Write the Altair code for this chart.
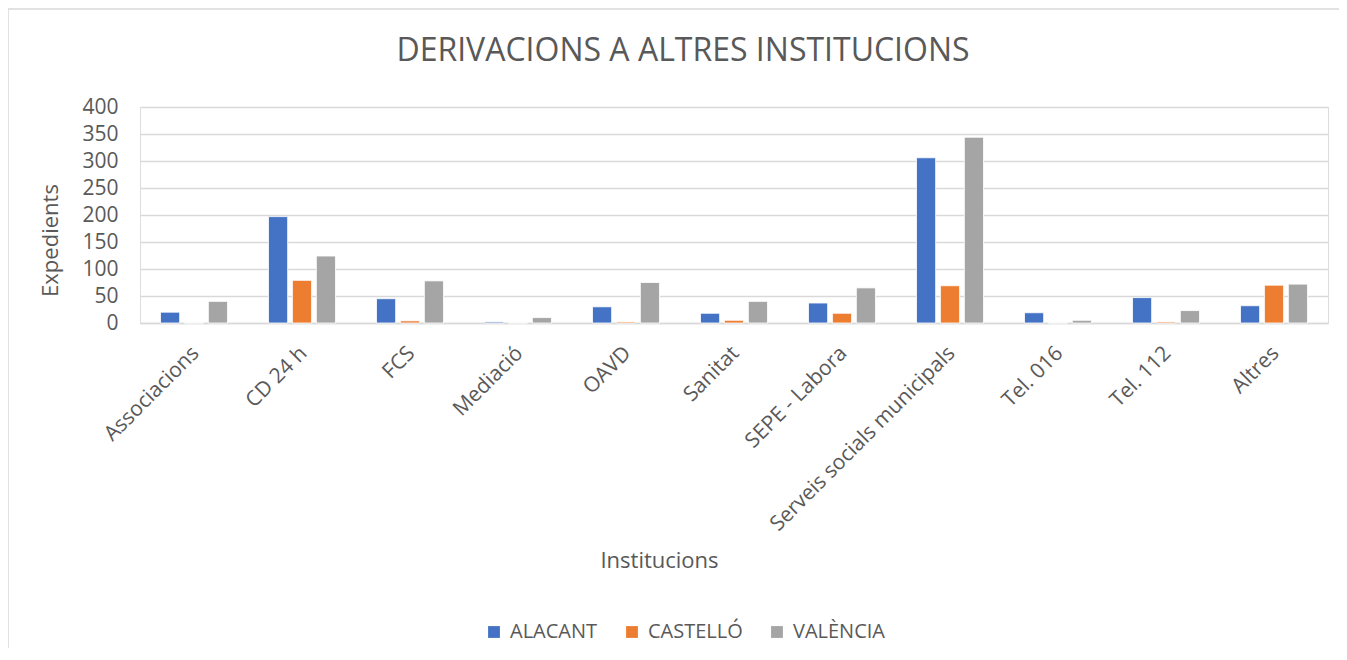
import altair as alt
import pandas as pd

categories = ["Associacions", "CD 24 h", "FCS", "Mediació", "OAVD", "Sanitat",
              "SEPE - Labora", "Serveis socials municipals", "Tel. 016", "Tel. 112", "Altres"]
alacant = [20, 197, 45, 2, 30, 18, 37, 306, 19, 47, 32]
castello = [0, 79, 4, 0, 2, 5, 18, 69, 0, 2, 70]
valencia = [40, 124, 78, 10, 75, 40, 65, 344, 5, 23, 72]
series = ["ALACANT", "CASTELLÓ", "VALÈNCIA"]
colors = ["#4472C4", "#ED7D31", "#A5A5A5"]

rows = []
for name, vals in zip(series, [alacant, castello, valencia]):
    for c, v in zip(categories, vals):
        rows.append({"Institucions": c, "Serie": name, "Expedients": v})
df = pd.DataFrame(rows)

FONT = "Open Sans"
TXT = "#595959"
GRID = "#D9D9D9"

W, H = 1188, 216
PL, PT, PR = 132, 99, 11
TOTAL_H = 640

bars = alt.Chart(df).mark_bar(stroke="white", strokeWidth=0.8).encode(
    x=alt.X("Institucions:N", sort=categories,
            scale=alt.Scale(paddingInner=0.38, paddingOuter=0.19),
            axis=alt.Axis(title="Institucions", labelAngle=-45, labelFontSize=21,
                          labelColor=TXT, labelFont=FONT, labelPadding=19,
                          labelOffset=-6, labelLimit=0,
                          ticks=False, domainColor=GRID, domainWidth=1.5,
                          titleFont=FONT, titleFontSize=22, titleFontWeight="normal",
                          titleColor=TXT, titleX=519, titleY=237,
                          titleAlign="center", titleBaseline="middle")),
    xOffset=alt.XOffset("Serie:N", sort=series,
                        scale=alt.Scale(paddingInner=0.2, paddingOuter=0)),
    y=alt.Y("Expedients:Q",
            scale=alt.Scale(domain=[0, 400], nice=False),
            axis=alt.Axis(values=[0, 50, 100, 150, 200, 250, 300, 350, 400],
                          labelFontSize=21, labelColor=TXT, labelFont=FONT,
                          labelPadding=22, ticks=False, domain=False,
                          gridColor=GRID, gridWidth=1.5,
                          title="Expedients", titleFont=FONT, titleFontSize=22,
                          titleFontWeight="normal", titleColor=TXT,
                          titleX=-90, titleY=133, titleAngle=-90,
                          titleBaseline="middle", titleAlign="center")),
    color=alt.Color("Serie:N", sort=series,
                    scale=alt.Scale(domain=series, range=colors),
                    legend=alt.Legend(title=None, orient="none", legendX=344, legendY=515,
                                      direction="horizontal",
                                      symbolType="square",
                                      symbolSize=140, symbolStrokeWidth=0,
                                      labelFont=FONT, labelFontSize=20, labelColor=TXT,
                                      columnPadding=24, labelOffset=6)),
)

border_data = alt.Data(values=[{"a": 1}])
left_border = alt.Chart(border_data).mark_rule(color=GRID, strokeWidth=1.5).encode(
    x=alt.value(-PL), y=alt.value(-PT + 1), y2=alt.value(TOTAL_H)
)
top_border = alt.Chart(border_data).mark_rule(color=GRID, strokeWidth=1.5).encode(
    x=alt.value(-PL), x2=alt.value(W + PR + 20), y=alt.value(-PT + 1)
)

chart = alt.layer(left_border, top_border, bars).properties(
    width=W, height=H,
    title=alt.TitleParams("DERIVACIONS A ALTRES INSTITUCIONS", font=FONT, fontSize=32,
                          fontWeight="normal", color=TXT, anchor="middle",
                          baseline="alphabetic", dx=-51, dy=85, offset=0),
    autosize=alt.AutoSizeParams(type="none"),
    padding={"left": PL, "top": PT, "right": PR, "bottom": TOTAL_H - PT - H},
).configure_view(stroke=None).configure(background="white")

chart.save("out.html", embed_options={"renderer": "svg", "actions": False})
